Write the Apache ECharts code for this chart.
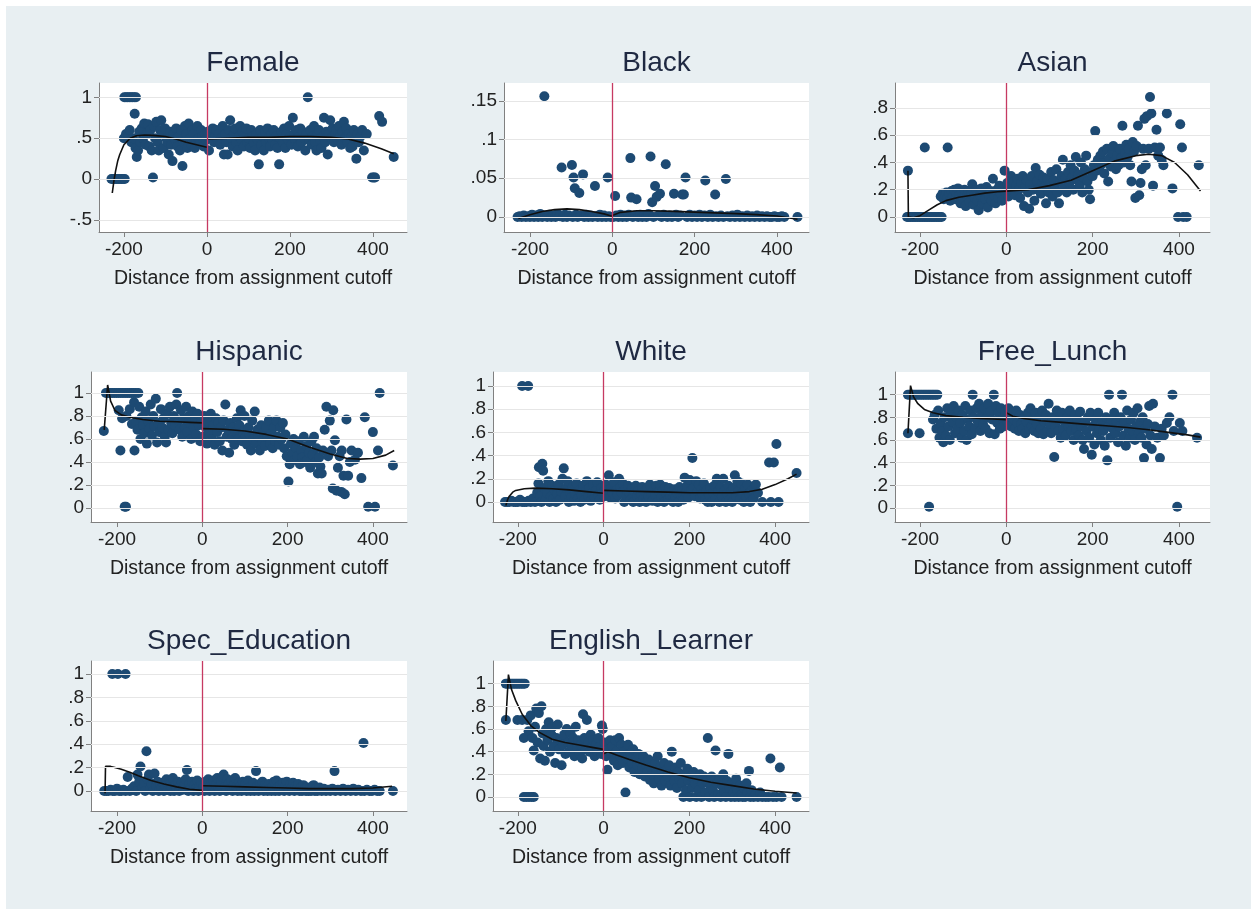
<!DOCTYPE html>
<html>
<head>
<meta charset="utf-8">
<title>Covariate balance around the assignment cutoff</title>
<script src="https://cdn.jsdelivr.net/npm/echarts@6/dist/echarts.min.js"></script>
<style>
  html, body { margin: 0; padding: 0; background: #ffffff; }
  #chart { position: absolute; left: 6px; top: 6px; width: 1245px; height: 903px; }
</style>
</head>
<body>
<div id="chart"></div>
<script>
// ---------- data: [distance from cutoff, school share] ----------
const panelTitles = ['Female', 'Black', 'Asian', 'Hispanic', 'White', 'Free_Lunch', 'Spec_Education', 'English_Learner'];
const xTickValues = [-200, 0, 200, 400];
const xAxisTitle = 'Distance from assignment cutoff';

const femalePoints = [
  [-230,0],[-226,0],[-222,0],[-218,0],[-214,0],[-210,0],[-206,0],[-202,0],[-198,0],
  [-199,1],[-195,1],[-191,1],[-187,1],[-183,1],[-179,1],[-175,1],[-171,1],
  [-200,0.5],[-195,0.55],[-190,0.52],[-186,0.6],[-182,0.45],[-178,0.5],[-174,0.8],[-172,0.38],[-169,0.27],[-166,0.35],
  [-163,0.58],[-160,0.45],[-157,0.62],[-154,0.5],[-151,0.68],[-148,0.42],[-145,0.55],[-142,0.67],[-139,0.4],[-136,0.6],
  [-133,0.35],[-130,0.02],[-128,0.65],[-125,0.5],[-122,0.7],[-119,0.45],[-116,0.35],[-113,0.6],[-110,0.72],[-107,0.55],
  [-104,0.38],[-101,0.62],[-98,0.5],[-95,0.45],[-92,0.3],[-89,0.58],[-86,0.42],[-83,0.22],[-80,0.55],[-77,0.48],
  [-74,0.62],[-71,0.4],[-68,0.52],[-65,0.35],[-62,0.6],[-59,0.16],[-56,0.45],[-53,0.65],[-50,0.55],[-47,0.38],
  [-44,0.68],[-41,0.5],[-38,0.42],[-35,0.6],[-32,0.55],[-29,0.38],[-26,0.48],[-23,0.65],[-20,0.5],[-17,0.44],
  [-14,0.6],[-11,0.52],[-8,0.4],[-5,0.55],[-2,0.48],
  [2,0.58],[5,0.35],[8,0.5],[11,0.55],[14,0.62],[17,0.45],[20,0.52],[23,0.6],[26,0.48],[29,0.55],[32,0.42],[35,0.5],
  [38,0.65],[41,0.3],[44,0.55],[47,0.45],[50,0.3],[53,0.6],[56,0.72],[59,0.5],[62,0.4],[65,0.55],[68,0.62],[71,0.45],
  [74,0.35],[77,0.52],[80,0.65],[83,0.48],[86,0.58],[89,0.4],[92,0.55],[95,0.62],[98,0.45],[101,0.5],[104,0.38],[107,0.6],
  [110,0.52],[113,0.45],[116,0.35],[119,0.55],[122,0.48],[125,0.18],[128,0.6],[131,0.42],[134,0.52],[137,0.35],[140,0.58],
  [143,0.45],[146,0.62],[149,0.5],[152,0.4],[155,0.55],[158,0.48],[161,0.6],[164,0.42],[167,0.52],[170,0.38],[174,0.18],
  [177,0.5],[180,0.58],[183,0.45],[186,0.62],[189,0.38],[192,0.55],[195,0.48],[198,0.65],[201,0.52],[204,0.42],[207,0.75],
  [210,0.55],[213,0.48],[216,0.6],[219,0.4],[222,0.52],[225,0.62],[228,0.45],[231,0.58],[234,0.5],[237,0.35],[240,0.55],
  [243,1.0],[246,0.48],[249,0.6],[252,0.42],[255,0.52],[258,0.65],[261,0.45],[264,0.35],[267,0.55],[270,0.6],[273,0.48],
  [276,0.38],[279,0.52],[282,0.75],[285,0.45],[288,0.58],[291,0.3],[294,0.55],[297,0.72],[300,0.5],[303,0.62],[306,0.45],
  [309,0.55],[312,0.6],[315,0.48],[318,0.65],[321,0.52],[324,0.42],[327,0.58],[330,0.7],[333,0.5],[336,0.62],[339,0.45],
  [342,0.55],[345,0.38],[348,0.52],[351,0.4],[354,0.6],[357,0.48],[360,0.25],[363,0.55],[366,0.45],[370,0.52],[374,0.6],
  [378,0.35],[385,0.55],[398,0.02],[402,0.02],[405,0.02],[415,0.77],[422,0.7],[450,0.27]
];
const femaleFitLeft = [[-228,-0.17],[-224,-0.02],[-220,0.1],[-215,0.22],[-210,0.3],[-200,0.42],[-185,0.5],[-170,0.53],[-150,0.54],[-130,0.535],[-100,0.52],[-75,0.49],[-50,0.45],[-25,0.42],[0,0.39]];
const femaleFitRight = [[0,0.49],[50,0.5],[100,0.51],[150,0.51],[200,0.52],[250,0.52],[300,0.51],[340,0.49],[380,0.44],[420,0.37],[450,0.31]];

const blackPoints = [
  [-230,0],[-225,0.001],[-220,0],[-215,0.002],[-210,0],[-205,0.001],[-200,0],[-195,0.003],[-190,0],[-185,0.002],[-180,0],
  [-175,0.004],[-170,0],[-165,0.156],[-163,0.002],[-158,0],[-153,0.003],[-148,0],[-143,0.002],[-138,0],[-133,0.004],
  [-128,0.001],[-123,0.064],[-120,0],[-115,0.003],[-110,0],[-105,0.002],[-98,0.067],[-96,0],[-94,0.051],[-91,0.037],
  [-88,0.003],[-84,0],[-80,0.031],[-77,0.002],[-71,0.055],[-68,0],[-63,0.003],[-58,0],[-53,0.002],[-48,0],[-42,0.04],
  [-40,0.001],[-35,0],[-30,0.003],[-25,0],[-20,0.002],[-15,0],[-11,0.051],[-8,0.001],[-4,0],[3,0],[7,0.027],[10,0.002],
  [15,0],[20,0.003],[25,0],[30,0.002],[35,0],[40,0.003],[44,0.076],[46,0.025],[50,0],[55,0.002],[59,0.023],[63,0],
  [68,0.003],[73,0],[78,0.002],[83,0],[88,0.004],[93,0.078],[97,0.019],[100,0],[104,0.04],[108,0.026],[112,0.002],
  [116,0.03],[120,0],[125,0.003],[130,0.068],[134,0],[140,0.002],[145,0],[150,0.03],[155,0.003],[160,0],[165,0.002],
  [170,0.029],[174,0.029],[178,0.051],[182,0],[188,0.003],[194,0],[200,0.002],[206,0],[212,0.003],[218,0],[224,0.002],
  [226,0.047],[232,0],[238,0.003],[244,0],[250,0.029],[252,0.001],[258,0],[264,0.002],[270,0],[276,0.049],[280,0.001],
  [286,0],[292,0.002],[298,0],[304,0.003],[310,0],[316,0.001],[322,0],[328,0.002],[334,0],[340,0.001],[346,0],[352,0.002],
  [358,0],[364,0.001],[370,0],[376,0.001],[382,0],[388,0],[394,0.001],[400,0],[406,0],[412,0.001],[418,0],[450,0]
];
const blackFitLeft = [[-228,-0.002],[-200,0.003],[-170,0.007],[-140,0.0095],[-110,0.0105],[-80,0.0095],[-50,0.007],[-20,0.004],[0,0.001]];
const blackFitRight = [[0,0.002],[20,0.006],[60,0.008],[100,0.008],[150,0.0072],[200,0.0063],[250,0.0053],[300,0.0043],[350,0.003],[400,0.0012],[450,-0.003]];

const asianPoints = [
  [-228,0.34],[-230,0],[-226,0],[-222,0],[-218,0],[-214,0],[-210,0],[-206,0],[-202,0],[-198,0],[-194,0],[-190,0],[-186,0],
  [-182,0],[-178,0],[-174,0],[-170,0],[-166,0],[-162,0],[-158,0],[-154,0],[-150,0],[-189,0.51],[-136,0.51],
  [-152,0.15],[-148,0.17],[-145,0.13],[-142,0.16],[-139,0.18],[-136,0.14],[-133,0.17],[-130,0.12],[-127,0.19],[-124,0.15],
  [-121,0.2],[-118,0.13],[-115,0.17],[-112,0.21],[-109,0.16],[-106,0.1],[-103,0.18],[-100,0.13],[-97,0.2],[-94,0.08],
  [-91,0.15],[-88,0.19],[-85,0.11],[-82,0.17],[-79,0.24],[-76,0.09],[-73,0.14],[-70,0.2],[-67,0.12],[-64,0.05],[-61,0.16],
  [-58,0.21],[-55,0.1],[-52,0.18],[-49,0.13],[-46,0.22],[-43,0.07],[-40,0.15],[-37,0.19],[-34,0.12],[-31,0.28],[-28,0.16],
  [-25,0.1],[-22,0.2],[-19,0.14],[-16,0.23],[-13,0.17],[-10,0.12],[-7,0.21],[-4,0.34],[-2,0.18],
  [2,0.25],[5,0.15],[8,0.22],[11,0.3],[14,0.19],[17,0.26],[20,0.16],[23,0.23],[26,0.28],[29,0.2],[32,0.14],[35,0.25],
  [38,0.3],[41,0.08],[44,0.22],[47,0.27],[50,0.18],[53,0.06],[56,0.24],[59,0.3],[62,0.2],[65,0.12],[68,0.36],[71,0.26],
  [74,0.21],[77,0.31],[80,0.17],[83,0.25],[86,0.29],[89,0.22],[92,0.1],[95,0.28],[98,0.18],[101,0.24],[104,0.33],[107,0.15],
  [110,0.27],[113,0.21],[116,0.35],[119,0.18],[122,0.1],[125,0.26],[128,0.3],[131,0.42],[134,0.22],[137,0.28],[140,0.18],
  [143,0.33],[146,0.25],[149,0.38],[152,0.29],[155,0.2],[158,0.34],[161,0.44],[164,0.27],[167,0.31],[170,0.23],[173,0.4],
  [176,0.18],[179,0.29],[182,0.35],[185,0.45],[188,0.26],[191,0.2],[194,0.13],[197,0.33],[200,0.3],[203,0.38],[206,0.63],
  [209,0.34],[212,0.42],[215,0.36],[218,0.45],[221,0.39],[224,0.48],[227,0.32],[230,0.4],[233,0.5],[236,0.26],[239,0.43],
  [242,0.37],[245,0.47],[248,0.52],[251,0.41],[254,0.35],[257,0.45],[260,0.38],[263,0.5],[266,0.43],[269,0.67],[272,0.4],
  [275,0.47],[278,0.53],[281,0.44],[284,0.5],[287,0.38],[290,0.26],[293,0.55],[296,0.48],[299,0.14],[302,0.52],[305,0.67],
  [308,0.16],[311,0.25],[314,0.35],[317,0.5],[320,0.72],[323,0.38],[326,0.74],[330,0.5],[333,0.88],[336,0.76],[340,0.23],
  [344,0.51],[348,0.64],[352,0.45],[356,0.51],[360,0.42],[364,0.38],[372,0.76],[385,0.21],[398,0],[403,0.68],[407,0.51],
  [410,0],[418,0],[446,0.38]
];
const asianFitLeft = [[-228,0.34],[-227,0.0],[-215,-0.005],[-200,0.01],[-180,0.05],[-160,0.09],[-140,0.12],[-110,0.145],[-80,0.16],[-50,0.175],[-20,0.185],[0,0.19]];
const asianFitRight = [[0,0.19],[50,0.2],[100,0.23],[150,0.27],[200,0.34],[250,0.41],[300,0.45],[330,0.46],[360,0.45],[390,0.4],[420,0.31],[450,0.19]];

const hispanicPoints = [
  [-231,0.67],[-226,1],[-221,1],[-216,1],[-211,1],[-206,1],[-201,1],[-196,1],[-191,1],[-186,1],[-181,1],[-176,1],[-171,1],
  [-166,1],[-161,1],[-156,1],[-150,1],[-192,0.5],[-159,0.5],[-182,0.01],[-179,0.01],
  [-196,0.85],[-188,0.78],[-178,0.8],[-170,0.86],[-165,0.73],[-160,0.92],[-155,0.75],[-152,0.68],[-148,0.88],[-145,0.6],
  [-142,0.79],[-139,0.72],[-136,0.65],[-133,0.84],[-130,0.56],[-127,0.76],[-124,0.69],[-121,0.9],[-118,0.63],[-115,0.8],
  [-112,0.71],[-109,0.95],[-106,0.57],[-103,0.74],[-100,0.66],[-97,0.86],[-94,0.7],[-91,0.78],[-88,0.62],[-85,0.57],
  [-82,0.82],[-79,0.68],[-76,0.88],[-73,0.74],[-70,0.65],[-67,0.8],[-64,0.72],[-61,0.9],[-59,1],[-56,0.76],[-53,0.68],
  [-50,0.85],[-47,0.62],[-44,0.78],[-41,0.7],[-38,0.88],[-35,0.66],[-32,0.8],[-29,0.74],[-26,0.6],[-23,0.84],[-20,0.7],
  [-17,0.78],[-14,0.64],[-11,0.82],[-8,0.72],[-5,0.58],[-2,0.76],
  [2,0.62],[5,0.8],[8,0.7],[11,0.56],[14,0.75],[17,0.65],[20,0.82],[23,0.6],[26,0.72],[29,0.55],[32,0.78],[35,0.66],
  [38,0.74],[41,0.58],[44,0.7],[47,0.5],[50,0.76],[54,0.9],[57,0.62],[60,0.68],[63,0.48],[66,0.74],[69,0.6],[72,0.7],
  [75,0.55],[78,0.66],[81,0.78],[84,0.6],[87,0.72],[90,0.85],[93,0.58],[96,0.67],[99,0.8],[102,0.62],[105,0.55],[108,0.7],
  [111,0.64],[114,0.5],[117,0.76],[120,0.6],[123,0.84],[126,0.56],[129,0.68],[132,0.62],[135,0.5],[138,0.72],[141,0.58],
  [144,0.66],[147,0.54],[150,0.7],[153,0.62],[156,0.76],[159,0.56],[162,0.65],[165,0.52],[168,0.7],[171,0.58],[174,0.76],
  [177,0.62],[180,0.55],[183,0.7],[186,0.6],[189,0.74],[192,0.52],[195,0.64],[198,0.45],[202,0.23],[205,0.38],[208,0.56],
  [211,0.48],[214,0.6],[217,0.42],[220,0.52],[223,0.45],[226,0.58],[229,0.38],[232,0.5],[235,0.44],[238,0.62],[241,0.4],
  [244,0.54],[247,0.42],[250,0.48],[253,0.35],[256,0.58],[259,0.46],[262,0.62],[265,0.4],[268,0.52],[271,0.3],[274,0.44],
  [277,0.36],[280,0.3],[283,0.5],[287,0.68],[291,0.88],[295,0.45],[299,0.76],[303,0.5],[307,0.85],[306,0.17],[311,0.59],
  [315,0.15],[318,0.35],[322,0.45],[326,0.14],[327,0.5],[331,0.28],[334,0.12],[338,0.77],[342,0.28],[346,0.4],[350,0.5],
  [358,0.42],[365,0.48],[373,0.26],[381,0.79],[389,0.01],[400,0.66],[405,0.01],[412,0.5],[416,1],[447,0.37]
];
const hispanicFitLeft = [[-230,0.68],[-222,1.07],[-215,0.93],[-205,0.85],[-190,0.81],[-170,0.79],[-140,0.77],[-100,0.755],[-60,0.75],[-30,0.745],[0,0.74]];
const hispanicFitRight = [[0,0.69],[50,0.685],[100,0.67],[150,0.64],[200,0.6],[250,0.53],[300,0.47],[340,0.43],[370,0.425],[400,0.43],[430,0.46],[450,0.5]];

const whitePoints = [
  [-230,0],[-225,0],[-220,0],[-215,0.01],[-210,0],[-205,0],[-200,0],[-195,0.02],[-190,0],[-190,1],[-185,0],[-180,0],
  [-176,1],[-175,0.01],[-170,0],[-165,0.03],[-160,0],[-155,0.08],[-152,0.16],[-151,0.3],[-148,0.05],[-145,0],[-143,0.33],
  [-141,0.27],[-138,0.12],[-135,0.02],[-132,0.08],[-129,0.18],[-126,0],[-123,0.05],[-120,0.14],[-117,0.03],[-114,0.1],
  [-111,0],[-108,0.07],[-105,0.15],[-102,0.02],[-99,0.09],[-96,0.2],[-93,0.29],[-90,0.05],[-87,0.12],[-84,0.18],[-81,0],
  [-78,0.08],[-75,0.04],[-72,0.13],[-69,0.01],[-66,0.07],[-63,0.16],[-60,0.03],[-57,0.1],[-54,0],[-51,0.06],[-48,0.14],
  [-45,0.02],[-42,0.09],[-39,0.18],[-36,0.05],[-33,0.12],[-30,0.01],[-27,0.07],[-24,0.15],[-21,0.04],[-18,0.1],[-15,0.17],
  [-12,0.06],[-9,0.02],[-6,0.12],[-3,0.08],
  [2,0.05],[5,0.15],[8,0.1],[12,0.23],[15,0.04],[18,0.12],[21,0.08],[24,0.17],[27,0.03],[30,0.1],[33,0.06],[36,0.2],
  [39,0.13],[42,0.08],[45,0.16],[48,0],[51,0.11],[54,0.05],[57,0.14],[60,0.08],[63,0.02],[66,0.12],[69,0],[72,0.09],
  [75,0.14],[78,0.05],[81,0.1],[84,0],[87,0.07],[90,0.13],[93,0.03],[96,0.09],[99,0],[102,0.12],[105,0.05],[108,0.15],
  [111,0.08],[114,0.01],[117,0.11],[120,0.06],[123,0.14],[126,0],[129,0.09],[132,0.15],[135,0.04],[138,0.1],[141,0],
  [144,0.13],[147,0.07],[150,0.02],[153,0.12],[156,0.05],[159,0.09],[162,0],[165,0.11],[168,0.04],[171,0.08],[174,0],
  [177,0.13],[180,0.06],[183,0.1],[186,0.02],[189,0.21],[192,0.08],[195,0.14],[198,0.04],[201,0.19],[204,0.1],[207,0.38],
  [210,0.12],[213,0.05],[216,0.18],[219,0.09],[222,0.15],[225,0.03],[228,0.11],[231,0.07],[234,0.16],[237,0.02],[240,0.1],
  [243,0],[246,0.06],[249,0.12],[252,0],[255,0.08],[258,0.14],[261,0.03],[264,0.2],[267,0.09],[270,0],[273,0.13],[276,0.05],
  [279,0.2],[282,0.1],[285,0],[288,0.07],[291,0.14],[294,0.02],[297,0.09],[300,0],[303,0.12],[306,0.23],[309,0.05],
  [312,0.18],[315,0.1],[318,0.02],[321,0.16],[324,0.08],[327,0],[330,0.12],[333,0.04],[336,0.15],[339,0.07],[342,0],
  [345,0.1],[350,0.03],[355,0.15],[360,0.08],[370,0],[386,0.34],[390,0],[397,0.34],[403,0.5],[408,0],[450,0.25]
];
const whiteFitLeft = [[-228,-0.03],[-224,0.02],[-220,0.05],[-212,0.085],[-205,0.1],[-185,0.115],[-160,0.12],[-120,0.115],[-80,0.105],[-40,0.09],[0,0.075]];
const whiteFitRight = [[0,0.1],[50,0.095],[100,0.09],[150,0.085],[200,0.08],[250,0.08],[300,0.08],[340,0.09],[370,0.11],[400,0.15],[430,0.2],[450,0.24]];

const freeLunchPoints = [
  [-228,0.66],[-228,1],[-224,1],[-220,1],[-216,1],[-212,1],[-208,1],[-204,1],[-200,1],[-196,1],[-192,1],[-188,1],[-184,1],
  [-180,1],[-176,1],[-172,1],[-168,1],[-164,1],[-160,1],[-201,0.66],[-179,0.01],
  [-170,0.78],[-166,0.82],[-162,0.7],[-158,0.86],[-155,0.62],[-152,0.75],[-149,0.68],[-146,0.58],[-143,0.8],[-140,0.64],
  [-137,0.88],[-134,0.72],[-131,0.6],[-128,0.84],[-125,0.76],[-122,0.9],[-119,0.66],[-116,0.8],[-113,0.7],[-110,0.86],
  [-107,0.75],[-104,0.62],[-101,0.82],[-98,0.68],[-95,0.9],[-92,0.6],[-89,0.78],[-86,0.72],[-83,0.86],[-80,0.65],[-78,1],
  [-75,0.8],[-72,0.7],[-69,0.88],[-66,0.76],[-63,0.92],[-60,0.68],[-57,0.82],[-54,0.74],[-51,0.88],[-48,0.7],[-45,0.8],
  [-42,0.92],[-39,0.66],[-36,0.85],[-33,0.78],[-29,1],[-27,0.65],[-24,0.9],[-21,0.75],[-18,0.84],[-15,0.7],[-12,0.88],
  [-9,0.78],[-6,0.72],[-3,0.85],
  [2,0.76],[5,0.88],[8,0.8],[11,0.72],[14,0.84],[17,0.78],[20,0.7],[23,0.86],[26,0.75],[29,0.68],[32,0.82],[35,0.74],
  [38,0.7],[41,0.8],[44,0.66],[47,0.76],[50,0.84],[53,0.7],[56,0.88],[59,0.72],[62,0.78],[65,0.68],[68,0.84],[71,0.74],
  [74,0.66],[77,0.8],[80,0.7],[83,0.86],[86,0.65],[89,0.76],[92,0.82],[95,0.68],[98,0.92],[101,0.74],[104,0.66],[107,0.8],
  [111,0.45],[114,0.72],[117,0.86],[120,0.68],[123,0.78],[126,0.62],[129,0.84],[132,0.7],[135,0.76],[138,0.64],[141,0.8],
  [144,0.72],[147,0.86],[150,0.68],[153,0.75],[156,0.6],[159,0.82],[162,0.7],[165,0.78],[168,0.64],[171,0.85],[174,0.72],
  [177,0.6],[180,0.52],[183,0.76],[186,0.68],[189,0.8],[192,0.62],[195,0.84],[198,0.47],[201,0.72],[204,0.56],[207,0.78],
  [210,0.66],[213,0.84],[216,0.7],[219,0.6],[222,0.76],[225,0.68],[228,0.55],[231,0.8],[234,0.42],[237,0.72],[238,1],
  [241,0.62],[244,0.78],[247,0.7],[250,0.84],[253,0.66],[256,0.76],[259,0.58],[262,0.72],[265,0.8],[268,1],[271,0.64],
  [274,0.76],[277,0.55],[280,0.86],[283,0.7],[286,0.62],[289,0.78],[292,0.68],[295,0.84],[298,0.6],[301,0.72],[304,0.88],
  [307,0.66],[310,0.76],[313,0.62],[316,0.8],[319,0.44],[322,0.7],[325,0.56],[328,0.74],[331,0.9],[334,0.64],[337,0.52],
  [340,0.92],[344,0.72],[350,0.62],[356,0.44],[360,0.7],[365,0.64],[372,0.75],[378,0.8],[385,1],[388,0.68],[396,0.01],
  [402,0.75],[408,0.68],[442,0.62]
];
const freeLunchFitLeft = [[-228,0.66],[-222,1.08],[-215,0.98],[-205,0.92],[-190,0.87],[-170,0.84],[-140,0.815],[-100,0.8],[-60,0.79],[-30,0.785],[0,0.78]];
const freeLunchFitRight = [[0,0.84],[15,0.81],[40,0.79],[80,0.77],[130,0.755],[180,0.74],[230,0.725],[280,0.71],[330,0.69],[380,0.665],[420,0.645],[450,0.625]];

const specEdPoints = [
  [-230,0],[-225,0],[-220,0],[-215,0.01],[-211,1],[-210,0],[-205,0],[-200,0.02],[-198,1],[-195,0],[-190,0],[-185,0.01],
  [-180,1],[-180,0],[-175,0.12],[-170,0],[-165,0.02],[-160,0.04],[-155,0],[-152,0.14],[-148,0.08],[-145,0.21],[-140,0.03],
  [-137,0.06],[-134,0],[-131,0.34],[-128,0.1],[-125,0.14],[-122,0.02],[-119,0.06],[-116,0],[-112,0.15],[-108,0.04],
  [-105,0.08],[-102,0],[-99,0.05],[-96,0.02],[-93,0.07],[-90,0],[-87,0.04],[-84,0.1],[-81,0.01],[-78,0.06],[-75,0],
  [-72,0.03],[-69,0.11],[-66,0],[-63,0.05],[-60,0.02],[-57,0.08],[-54,0],[-51,0.04],[-48,0.07],[-45,0.01],[-42,0.05],
  [-39,0.1],[-36,0.18],[-33,0],[-30,0.06],[-27,0.03],[-24,0.08],[-21,0],[-18,0.05],[-15,0.02],[-12,0.09],[-9,0],[-6,0.04],
  [-3,0.07],
  [2,0.03],[5,0],[8,0.08],[11,0.04],[14,0.1],[17,0],[20,0.06],[23,0.02],[26,0.09],[29,0],[32,0.05],[35,0.11],[38,0.03],
  [41,0],[44,0.08],[47,0.12],[50,0.14],[53,0.04],[56,0],[59,0.1],[62,0.06],[65,0.02],[68,0.09],[71,0],[74,0.05],[77,0.11],
  [80,0.03],[83,0],[86,0.07],[89,0.04],[92,0],[95,0.08],[98,0.02],[101,0.06],[104,0],[107,0.09],[110,0.03],[113,0],
  [116,0.05],[119,0.07],[122,0],[126,0.17],[129,0.04],[132,0],[135,0.06],[138,0.02],[141,0.08],[144,0],[147,0.05],
  [150,0.03],[153,0],[156,0.06],[159,0.02],[162,0],[165,0.04],[168,0.08],[171,0],[174,0.09],[177,0.03],[180,0],[183,0.05],
  [186,0.02],[189,0.07],[192,0],[195,0.04],[198,0.08],[201,0.02],[204,0],[207,0.06],[210,0.03],[213,0.07],[216,0],
  [219,0.04],[222,0.02],[225,0.06],[228,0],[231,0.03],[234,0],[237,0.05],[240,0.02],[243,0],[246,0.03],[249,0],[252,0.02],
  [255,0],[258,0.04],[261,0.05],[264,0],[267,0.02],[270,0],[275,0.03],[280,0],[285,0.02],[290,0],[295,0.01],[300,0],
  [305,0.02],[310,0.17],[312,0],[318,0.01],[324,0],[330,0.02],[336,0],[342,0.01],[348,0],[354,0.02],[360,0],[366,0.01],
  [372,0],[378,0.41],[380,0],[386,0.01],[392,0],[398,0],[404,0.01],[410,0],[416,0],[447,0]
];
const specEdFitLeft = [[-228,-0.02],[-227,0.21],[-215,0.21],[-205,0.2],[-190,0.185],[-170,0.16],[-150,0.13],[-120,0.09],[-90,0.06],[-60,0.035],[-30,0.015],[0,0.005]];
const specEdFitRight = [[0,0.045],[50,0.04],[100,0.035],[150,0.03],[200,0.025],[250,0.02],[300,0.02],[350,0.02],[400,0.025],[445,0.04]];

const englishLearnerPoints = [
  [-228,0.68],[-228,1],[-224,1],[-220,1],[-216,1],[-212,1],[-208,1],[-204,1],[-200,1],[-196,1],[-192,1],[-188,1],[-184,1],
  [-201,0.68],[-186,0.52],[-186,0],[-180,0],[-174,0],[-168,0],[-163,0],
  [-190,0.68],[-178,0.68],[-175,0.58],[-170,0.72],[-166,0.52],[-163,0.41],[-160,0.62],[-157,0.78],[-154,0.48],[-151,0.74],
  [-148,0.34],[-145,0.8],[-142,0.56],[-140,0.45],[-137,0.32],[-134,0.6],[-131,0.5],[-128,0.66],[-125,0.4],[-122,0.55],
  [-119,0.62],[-116,0.45],[-113,0.3],[-110,0.52],[-107,0.64],[-104,0.42],[-101,0.5],[-98,0.28],[-95,0.46],[-92,0.55],
  [-89,0.38],[-86,0.6],[-83,0.48],[-80,0.4],[-77,0.56],[-74,0.45],[-71,0.52],[-68,0.36],[-65,0.62],[-62,0.44],[-59,0.5],
  [-56,0.38],[-53,0.46],[-50,0.34],[-48,0.73],[-45,0.52],[-42,0.42],[-39,0.68],[-36,0.48],[-33,0.4],[-30,0.55],[-27,0.44],
  [-24,0.5],[-21,0.36],[-18,0.46],[-15,0.4],[-12,0.52],[-9,0.44],[-6,0.38],[-4,0.63],[-2,0.6],
  [2,0.48],[6,0.36],[9,0.24],[12,0.42],[15,0.5],[18,0.38],[21,0.45],[24,0.32],[27,0.5],[30,0.4],[33,0.28],[36,0.52],
  [39,0.36],[42,0.46],[45,0.3],[48,0.4],[51,0.04],[54,0.34],[57,0.46],[60,0.26],[63,0.38],[66,0.3],[69,0.42],[72,0.22],
  [75,0.34],[78,0.28],[81,0.38],[84,0.2],[87,0.3],[90,0.25],[93,0.36],[96,0.18],[99,0.28],[102,0.22],[105,0.33],[108,0.15],
  [111,0.26],[114,0.2],[117,0.12],[120,0.3],[123,0.22],[126,0.36],[129,0.16],[132,0.26],[135,0.1],[138,0.22],[141,0.3],
  [144,0.14],[147,0.24],[150,0.18],[153,0.28],[156,0.1],[159,0.4],[162,0.2],[165,0.14],[168,0.26],[171,0.08],[174,0.22],
  [177,0.16],[180,0.3],[183,0.12],[186,0],[189,0.2],[192,0.06],[195,0.25],[198,0.14],[201,0],[204,0.18],[207,0.08],
  [210,0.22],[213,0.12],[216,0],[219,0.16],[222,0.06],[225,0.2],[228,0],[231,0.12],[234,0.18],[237,0.04],[240,0.14],
  [243,0.52],[246,0],[249,0.1],[252,0.18],[255,0.06],[258,0],[261,0.41],[264,0.12],[267,0.02],[270,0.16],[273,0],[276,0.1],
  [279,0.2],[282,0.04],[285,0],[288,0.14],[291,0.38],[294,0.08],[297,0],[300,0.12],[303,0.04],[306,0],[309,0.16],[312,0.06],
  [315,0],[318,0.1],[321,0.02],[324,0],[327,0.08],[330,0],[333,0.12],[336,0.04],[339,0.23],[342,0],[345,0.06],[350,0],
  [355,0.02],[360,0],[365,0.04],[370,0],[378,0],[385,0],[389,0.34],[395,0],[403,0],[411,0.26],[415,0],[450,0]
];
const englishLearnerFitLeft = [[-228,0.67],[-222,1.08],[-215,0.95],[-205,0.85],[-190,0.73],[-170,0.63],[-150,0.57],[-120,0.51],[-90,0.48],[-60,0.46],[-30,0.44],[0,0.42]];
const englishLearnerFitRight = [[0,0.38],[10,0.4],[30,0.37],[60,0.33],[100,0.28],[150,0.22],[200,0.17],[250,0.13],[300,0.1],[350,0.07],[400,0.05],[450,0.035]];

const yTicksFemale = [-0.5, 0, 0.5, 1];
const yTicksBlack = [0, 0.05, 0.1, 0.15];
const yTicksAsian = [0, 0.2, 0.4, 0.6, 0.8];
const yTicksUnit = [0, 0.2, 0.4, 0.6, 0.8, 1];

// ---------- panel layout (page pixels) and axis ranges ----------
const PAGE_OFFSET = 6;
const panels = [
  { title: panelTitles[0], pts: femalePoints, fitL: femaleFitLeft, fitR: femaleFitRight, yTicks: yTicksFemale,
    box: [99, 83, 308, 149], x: [-260, 482], y: [-0.647, 1.175], titleY: 64 },
  { title: panelTitles[1], pts: blackPoints, fitL: blackFitLeft, fitR: blackFitRight, yTicks: yTicksBlack,
    box: [504, 83, 305, 149], x: [-263, 478], y: [-0.0194, 0.173], titleY: 64 },
  { title: panelTitles[2], pts: asianPoints, fitL: asianFitLeft, fitR: asianFitRight, yTicks: yTicksAsian,
    box: [895, 83, 315, 149], x: [-258, 472], y: [-0.11, 0.983], titleY: 64 },
  { title: panelTitles[3], pts: hispanicPoints, fitL: hispanicFitLeft, fitR: hispanicFitRight, yTicks: yTicksUnit,
    box: [91, 372, 316, 150], x: [-261, 480], y: [-0.122, 1.183], titleY: 353 },
  { title: panelTitles[4], pts: whitePoints, fitL: whiteFitLeft, fitR: whiteFitRight, yTicks: yTicksUnit,
    box: [493, 372, 316, 150], x: [-258, 479], y: [-0.172, 1.12], titleY: 353 },
  { title: panelTitles[5], pts: freeLunchPoints, fitL: freeLunchFitLeft, fitR: freeLunchFitRight, yTicks: yTicksUnit,
    box: [895, 372, 315, 150], x: [-258, 472], y: [-0.124, 1.2], titleY: 353 },
  { title: panelTitles[6], pts: specEdPoints, fitL: specEdFitLeft, fitR: specEdFitRight, yTicks: yTicksUnit,
    box: [91, 661, 316, 150], x: [-261, 480], y: [-0.171, 1.111], titleY: 642 },
  { title: panelTitles[7], pts: englishLearnerPoints, fitL: englishLearnerFitLeft, fitR: englishLearnerFitRight, yTicks: yTicksUnit,
    box: [493, 661, 316, 150], x: [-258, 479], y: [-0.124, 1.2], titleY: 642 }
];

const FONT = '"Liberation Sans", Arial, Helvetica, sans-serif';
const MARKER = '#1d4a73';
const AXIS_GRAY = '#808080';
const CUTOFF_RED = '#c63a62';
const TITLE_SIZE = 28;
const TICK_SIZE = 19;
const NAME_SIZE = 19.5;

// Stata-style tick labels: .5, -.5, .15
function tickText(v) {
  const s = String(+Number(v).toFixed(4));
  return s.replace(/^(-?)0\./, '$1.');
}

const option = {
  backgroundColor: '#e8eff2',
  animation: false,
  title: [], grid: [], xAxis: [], yAxis: [], series: []
};

panels.forEach((p, i) => {
  const [left, top, width, height] = p.box;
  option.title.push({
    text: p.title,
    left: left - PAGE_OFFSET + width / 2,
    top: p.titleY - PAGE_OFFSET - 15,
    textAlign: 'center',
    padding: 0,
    textStyle: { fontFamily: FONT, fontSize: TITLE_SIZE, fontWeight: 'normal', color: '#1f2942' }
  });
  option.grid.push({
    left: left - PAGE_OFFSET, top: top - PAGE_OFFSET, width: width, height: height,
    show: true, backgroundColor: '#ffffff', borderWidth: 0, containLabel: false
  });
  option.xAxis.push({
    type: 'value', gridIndex: i, min: p.x[0], max: p.x[1],
    name: xAxisTitle, nameLocation: 'middle', nameGap: 37,
    nameTextStyle: { fontFamily: FONT, fontSize: NAME_SIZE, color: '#222' },
    axisLine: { show: true, onZero: false, lineStyle: { color: AXIS_GRAY, width: 1 } },
    axisTick: { show: true, length: 5, customValues: xTickValues, lineStyle: { color: AXIS_GRAY } },
    axisLabel: { customValues: xTickValues, margin: 8, fontFamily: FONT, fontSize: TICK_SIZE, color: '#222',
                 formatter: v => String(v) },
    splitLine: { show: false }
  });
  option.yAxis.push({
    type: 'value', gridIndex: i, min: p.y[0], max: p.y[1],
    axisLine: { show: true, onZero: false, lineStyle: { color: AXIS_GRAY, width: 1 } },
    axisTick: { show: true, length: 5, customValues: p.yTicks, lineStyle: { color: AXIS_GRAY } },
    axisLabel: { customValues: p.yTicks, margin: 7, fontFamily: FONT, fontSize: TICK_SIZE, color: '#222',
                 formatter: tickText },
    splitLine: { show: false }
  });
  // horizontal grid lines at the y ticks and the cutoff line at distance 0
  option.series.push({
    type: 'scatter', xAxisIndex: i, yAxisIndex: i, data: [], silent: true, z: 1,
    markLine: {
      silent: true, symbol: 'none', animation: false, label: { show: false },
      data: p.yTicks.map(v => ({ yAxis: v, lineStyle: { color: '#e6e6e6', width: 1, type: 'solid' } }))
        .concat([{ xAxis: 0, lineStyle: { color: CUTOFF_RED, width: 1.3, type: 'solid' } }])
    }
  });
  option.series.push({
    type: 'scatter', xAxisIndex: i, yAxisIndex: i, data: p.pts, z: 2,
    symbol: 'circle', symbolSize: 10, itemStyle: { color: MARKER, opacity: 1 }, silent: true
  });
  [p.fitL, p.fitR].forEach(fit => {
    option.series.push({
      type: 'line', xAxisIndex: i, yAxisIndex: i, data: fit, z: 3,
      showSymbol: false, symbol: 'none', silent: true,
      lineStyle: { color: '#111111', width: 1.6 }
    });
  });
});

const chart = echarts.init(document.getElementById('chart'), null, { renderer: 'canvas' });
chart.setOption(option);
</script>
</body>
</html>
